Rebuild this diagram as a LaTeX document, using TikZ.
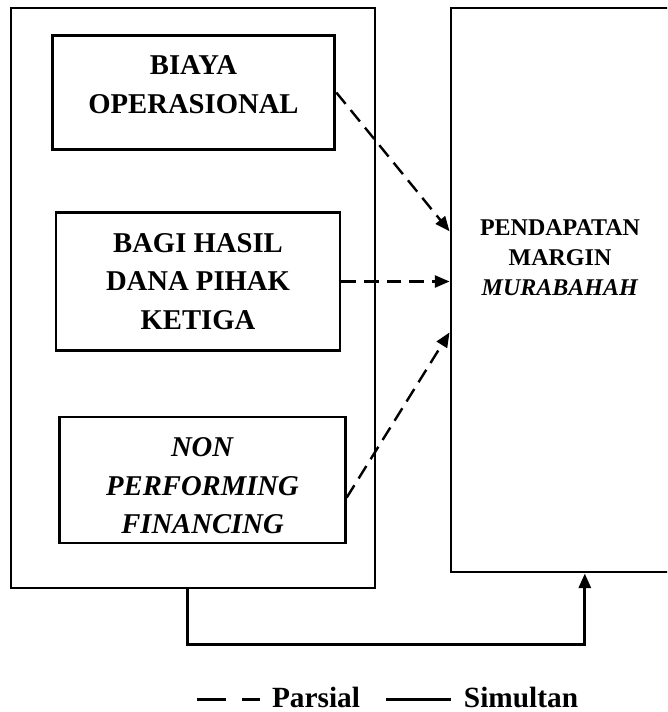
\documentclass[tikz,border=0pt]{standalone}
\usepackage{fontspec}
\setmainfont{Liberation Serif}
\usetikzlibrary{positioning,arrows.meta}

\begin{document}
\begin{tikzpicture}[x=0.75pt, y=-0.75pt, >={Triangle[length=11pt,width=9pt]},
  varbox/.style={draw, line width=2.2pt, inner sep=0pt, align=center,
    font=\bfseries\fontsize{21.5}{29}\selectfont},
  group box/.style={draw, line width=2.2pt, inner sep=0pt},
  partial/.style={->, line width=1.8pt, dash pattern=on 11pt off 6pt},
  simultan/.style={->, line width=2.2pt},
  legend/.style={font=\bfseries\fontsize{22}{26}\selectfont}]

\useasboundingbox (0,0) rectangle (667,712);
\clip (0,0) rectangle (667,712);

% boxes
\node [group box, minimum width=273pt, minimum height=435pt] (group) at (193,298) {};
\node [group box, minimum width=163.5pt, minimum height=423pt] (margin) at (560,290) {};
\node [align=center, font=\bfseries\fontsize{18}{22.5}\selectfont] (margin-label) at (560,258)
  {PENDAPATAN\\MARGIN\\\textit{MURABAHAH}};

\node [varbox, minimum width=212pt, minimum height=86pt, text depth=12pt] (biaya) at (193.5,92.5)
  {BIAYA\\OPERASIONAL};
\node [varbox, minimum width=213pt, minimum height=103pt] (bagi) at (198,281.5)
  {BAGI HASIL\\DANA PIHAK\\KETIGA};
\node [varbox, minimum width=214pt, minimum height=94.5pt, text height=81pt] (npf) at (202.5,480)
  {\textit{NON}\\\textit{PERFORMING}\\\textit{FINANCING}};

% partial
\draw [partial] (biaya.east) -- (margin.152);
\draw [partial] (bagi.east) -- (bagi.east -| margin.west);
\draw [partial] (npf.-7) -- (margin.201.5);

% simultan
\draw [simultan] (group.-91) -- ++(0,55) -| (margin.-85);

% legend
\coordinate (parsial-a) at (197,699);
\coordinate (parsial-b) at (260,699);
\coordinate (simultan-a) at (386,699);
\coordinate (simultan-b) at (451,699);
\draw [line width=2.25pt, dash pattern=on 21.75pt off 12pt] (parsial-a) -- (parsial-b);
\draw [line width=2.25pt] (simultan-a) -- (simultan-b);
\node [legend] (parsial) at (316,697) {Parsial};
\node [legend] (simultan) at (521,697) {Simultan};
\end{tikzpicture}
\end{document}
